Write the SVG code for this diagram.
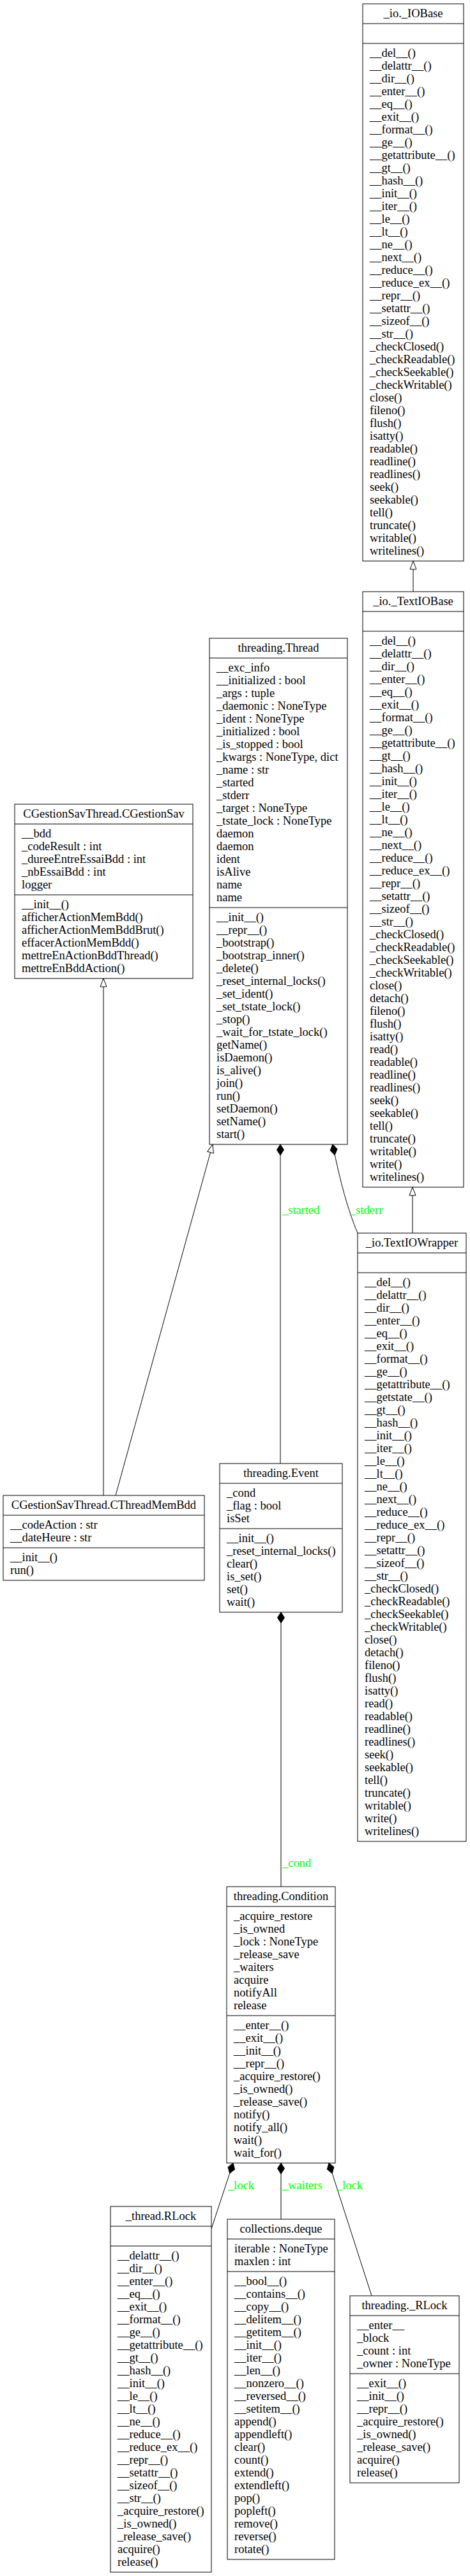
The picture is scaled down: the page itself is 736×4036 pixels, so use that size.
<svg xmlns="http://www.w3.org/2000/svg" width="736" height="4036" viewBox="0 0 736 4036">
<style>
.box{fill:#fff;stroke:#000;stroke-width:1}
.sep{stroke:#000;stroke-width:1}
text{font-family:"Liberation Serif","Times New Roman",serif;font-size:18.5px;fill:#000}
.h{text-anchor:middle}
.lbl{fill:#00ff00}
.edge{fill:none;stroke:#000;stroke-width:1}
.inh{marker-end:url(#tri)}
.comp{marker-start:url(#dia)}
</style>
<defs>
<marker id="tri" markerUnits="userSpaceOnUse" markerWidth="15" markerHeight="12" refX="13" refY="5.5" orient="auto" overflow="visible">
<path d="M0,0.5 L13,5.5 L0,10.5 Z" fill="#fff" stroke="#000" stroke-width="1"/>
</marker>
<marker id="dia" markerUnits="userSpaceOnUse" markerWidth="18" markerHeight="12" refX="0" refY="5.5" orient="auto" overflow="visible">
<path d="M0,5.5 L8.5,0 L17,5.5 L8.5,11 Z" fill="#000" stroke="#000" stroke-width="1"/>
</marker>
</defs>
<rect x="0" y="0" width="736" height="4036" fill="#fff"/>

<g id="connectors">
<path class="edge inh" d="M647,927 L647,879"/>
<path class="edge inh" d="M646,1932 L646,1860"/>
<path class="edge inh" d="M162,2343 L162,1533"/>
<path class="edge inh" d="M181,2343 L333,1793"/>
<path class="edge comp" d="M439,1793 L439,2293"/>
<path class="edge comp" d="M521,1793 Q538,1880 560,1932"/>
<path class="edge comp" d="M440,2526 L440,2956"/>
<path class="edge comp" d="M365,3389 L331,3492"/>
<path class="edge comp" d="M440,3389 L440,3477"/>
<path class="edge comp" d="M515,3389 L582,3597"/>
<text class="lbl" x="442" y="1902">_started</text>
<text class="lbl" x="548" y="1902">_stderr</text>
<text class="lbl" x="442" y="2925">_cond</text>
<text class="lbl" x="357" y="3430">_lock</text>
<text class="lbl" x="442" y="3430">_waiters</text>
<text class="lbl" x="527" y="3430">_lock</text>
</g>

<g id="io_IOBase">
<rect class="box" x="568" y="6" width="158" height="873"/>
<line class="sep" x1="568" y1="37" x2="726" y2="37"/>
<line class="sep" x1="568" y1="68" x2="726" y2="68"/>
<text class="h" x="647" y="27">_io._IOBase</text>
<text>
<tspan x="579" y="89">__del__()</tspan>
<tspan x="579" y="109">__delattr__()</tspan>
<tspan x="579" y="129">__dir__()</tspan>
<tspan x="579" y="149">__enter__()</tspan>
<tspan x="579" y="169">__eq__()</tspan>
<tspan x="579" y="189">__exit__()</tspan>
<tspan x="579" y="209">__format__()</tspan>
<tspan x="579" y="229">__ge__()</tspan>
<tspan x="579" y="249">__getattribute__()</tspan>
<tspan x="579" y="269">__gt__()</tspan>
<tspan x="579" y="289">__hash__()</tspan>
<tspan x="579" y="309">__init__()</tspan>
<tspan x="579" y="329">__iter__()</tspan>
<tspan x="579" y="349">__le__()</tspan>
<tspan x="579" y="369">__lt__()</tspan>
<tspan x="579" y="389">__ne__()</tspan>
<tspan x="579" y="409">__next__()</tspan>
<tspan x="579" y="429">__reduce__()</tspan>
<tspan x="579" y="449">__reduce_ex__()</tspan>
<tspan x="579" y="469">__repr__()</tspan>
<tspan x="579" y="489">__setattr__()</tspan>
<tspan x="579" y="509">__sizeof__()</tspan>
<tspan x="579" y="529">__str__()</tspan>
<tspan x="579" y="549">_checkClosed()</tspan>
<tspan x="579" y="569">_checkReadable()</tspan>
<tspan x="579" y="589">_checkSeekable()</tspan>
<tspan x="579" y="609">_checkWritable()</tspan>
<tspan x="579" y="629">close()</tspan>
<tspan x="579" y="649">fileno()</tspan>
<tspan x="579" y="669">flush()</tspan>
<tspan x="579" y="689">isatty()</tspan>
<tspan x="579" y="709">readable()</tspan>
<tspan x="579" y="729">readline()</tspan>
<tspan x="579" y="749">readlines()</tspan>
<tspan x="579" y="769">seek()</tspan>
<tspan x="579" y="789">seekable()</tspan>
<tspan x="579" y="809">tell()</tspan>
<tspan x="579" y="829">truncate()</tspan>
<tspan x="579" y="849">writable()</tspan>
<tspan x="579" y="869">writelines()</tspan>
</text>
</g>

<g id="io_TextIOBase">
<rect class="box" x="568" y="927" width="158" height="933"/>
<line class="sep" x1="568" y1="958" x2="726" y2="958"/>
<line class="sep" x1="568" y1="989" x2="726" y2="989"/>
<text class="h" x="647" y="948">_io._TextIOBase</text>
<text>
<tspan x="579" y="1010">__del__()</tspan>
<tspan x="579" y="1030">__delattr__()</tspan>
<tspan x="579" y="1050">__dir__()</tspan>
<tspan x="579" y="1070">__enter__()</tspan>
<tspan x="579" y="1090">__eq__()</tspan>
<tspan x="579" y="1110">__exit__()</tspan>
<tspan x="579" y="1130">__format__()</tspan>
<tspan x="579" y="1150">__ge__()</tspan>
<tspan x="579" y="1170">__getattribute__()</tspan>
<tspan x="579" y="1190">__gt__()</tspan>
<tspan x="579" y="1210">__hash__()</tspan>
<tspan x="579" y="1230">__init__()</tspan>
<tspan x="579" y="1250">__iter__()</tspan>
<tspan x="579" y="1270">__le__()</tspan>
<tspan x="579" y="1290">__lt__()</tspan>
<tspan x="579" y="1310">__ne__()</tspan>
<tspan x="579" y="1330">__next__()</tspan>
<tspan x="579" y="1350">__reduce__()</tspan>
<tspan x="579" y="1370">__reduce_ex__()</tspan>
<tspan x="579" y="1390">__repr__()</tspan>
<tspan x="579" y="1410">__setattr__()</tspan>
<tspan x="579" y="1430">__sizeof__()</tspan>
<tspan x="579" y="1450">__str__()</tspan>
<tspan x="579" y="1470">_checkClosed()</tspan>
<tspan x="579" y="1490">_checkReadable()</tspan>
<tspan x="579" y="1510">_checkSeekable()</tspan>
<tspan x="579" y="1530">_checkWritable()</tspan>
<tspan x="579" y="1550">close()</tspan>
<tspan x="579" y="1570">detach()</tspan>
<tspan x="579" y="1590">fileno()</tspan>
<tspan x="579" y="1610">flush()</tspan>
<tspan x="579" y="1630">isatty()</tspan>
<tspan x="579" y="1650">read()</tspan>
<tspan x="579" y="1670">readable()</tspan>
<tspan x="579" y="1690">readline()</tspan>
<tspan x="579" y="1710">readlines()</tspan>
<tspan x="579" y="1730">seek()</tspan>
<tspan x="579" y="1750">seekable()</tspan>
<tspan x="579" y="1770">tell()</tspan>
<tspan x="579" y="1790">truncate()</tspan>
<tspan x="579" y="1810">writable()</tspan>
<tspan x="579" y="1830">write()</tspan>
<tspan x="579" y="1850">writelines()</tspan>
</text>
</g>

<g id="io_TextIOWrapper">
<rect class="box" x="560" y="1932" width="170" height="953"/>
<line class="sep" x1="560" y1="1963" x2="730" y2="1963"/>
<line class="sep" x1="560" y1="1994" x2="730" y2="1994"/>
<text class="h" x="645" y="1953">_io.TextIOWrapper</text>
<text>
<tspan x="571" y="2015">__del__()</tspan>
<tspan x="571" y="2035">__delattr__()</tspan>
<tspan x="571" y="2055">__dir__()</tspan>
<tspan x="571" y="2075">__enter__()</tspan>
<tspan x="571" y="2095">__eq__()</tspan>
<tspan x="571" y="2115">__exit__()</tspan>
<tspan x="571" y="2135">__format__()</tspan>
<tspan x="571" y="2155">__ge__()</tspan>
<tspan x="571" y="2175">__getattribute__()</tspan>
<tspan x="571" y="2195">__getstate__()</tspan>
<tspan x="571" y="2215">__gt__()</tspan>
<tspan x="571" y="2235">__hash__()</tspan>
<tspan x="571" y="2255">__init__()</tspan>
<tspan x="571" y="2275">__iter__()</tspan>
<tspan x="571" y="2295">__le__()</tspan>
<tspan x="571" y="2315">__lt__()</tspan>
<tspan x="571" y="2335">__ne__()</tspan>
<tspan x="571" y="2355">__next__()</tspan>
<tspan x="571" y="2375">__reduce__()</tspan>
<tspan x="571" y="2395">__reduce_ex__()</tspan>
<tspan x="571" y="2415">__repr__()</tspan>
<tspan x="571" y="2435">__setattr__()</tspan>
<tspan x="571" y="2455">__sizeof__()</tspan>
<tspan x="571" y="2475">__str__()</tspan>
<tspan x="571" y="2495">_checkClosed()</tspan>
<tspan x="571" y="2515">_checkReadable()</tspan>
<tspan x="571" y="2535">_checkSeekable()</tspan>
<tspan x="571" y="2555">_checkWritable()</tspan>
<tspan x="571" y="2575">close()</tspan>
<tspan x="571" y="2595">detach()</tspan>
<tspan x="571" y="2615">fileno()</tspan>
<tspan x="571" y="2635">flush()</tspan>
<tspan x="571" y="2655">isatty()</tspan>
<tspan x="571" y="2675">read()</tspan>
<tspan x="571" y="2695">readable()</tspan>
<tspan x="571" y="2715">readline()</tspan>
<tspan x="571" y="2735">readlines()</tspan>
<tspan x="571" y="2755">seek()</tspan>
<tspan x="571" y="2775">seekable()</tspan>
<tspan x="571" y="2795">tell()</tspan>
<tspan x="571" y="2815">truncate()</tspan>
<tspan x="571" y="2835">writable()</tspan>
<tspan x="571" y="2855">write()</tspan>
<tspan x="571" y="2875">writelines()</tspan>
</text>
</g>

<g id="threading_Thread">
<rect class="box" x="328" y="1000" width="216" height="793"/>
<line class="sep" x1="328" y1="1031" x2="544" y2="1031"/>
<line class="sep" x1="328" y1="1422" x2="544" y2="1422"/>
<text class="h" x="436" y="1021">threading.Thread</text>
<text>
<tspan x="339" y="1052">__exc_info</tspan>
<tspan x="339" y="1072">__initialized : bool</tspan>
<tspan x="339" y="1092">_args : tuple</tspan>
<tspan x="339" y="1112">_daemonic : NoneType</tspan>
<tspan x="339" y="1132">_ident : NoneType</tspan>
<tspan x="339" y="1152">_initialized : bool</tspan>
<tspan x="339" y="1172">_is_stopped : bool</tspan>
<tspan x="339" y="1192">_kwargs : NoneType, dict</tspan>
<tspan x="339" y="1212">_name : str</tspan>
<tspan x="339" y="1232">_started</tspan>
<tspan x="339" y="1252">_stderr</tspan>
<tspan x="339" y="1272">_target : NoneType</tspan>
<tspan x="339" y="1292">_tstate_lock : NoneType</tspan>
<tspan x="339" y="1312">daemon</tspan>
<tspan x="339" y="1332">daemon</tspan>
<tspan x="339" y="1352">ident</tspan>
<tspan x="339" y="1372">isAlive</tspan>
<tspan x="339" y="1392">name</tspan>
<tspan x="339" y="1412">name</tspan>
</text>
<text>
<tspan x="339" y="1443">__init__()</tspan>
<tspan x="339" y="1463">__repr__()</tspan>
<tspan x="339" y="1483">_bootstrap()</tspan>
<tspan x="339" y="1503">_bootstrap_inner()</tspan>
<tspan x="339" y="1523">_delete()</tspan>
<tspan x="339" y="1543">_reset_internal_locks()</tspan>
<tspan x="339" y="1563">_set_ident()</tspan>
<tspan x="339" y="1583">_set_tstate_lock()</tspan>
<tspan x="339" y="1603">_stop()</tspan>
<tspan x="339" y="1623">_wait_for_tstate_lock()</tspan>
<tspan x="339" y="1643">getName()</tspan>
<tspan x="339" y="1663">isDaemon()</tspan>
<tspan x="339" y="1683">is_alive()</tspan>
<tspan x="339" y="1703">join()</tspan>
<tspan x="339" y="1723">run()</tspan>
<tspan x="339" y="1743">setDaemon()</tspan>
<tspan x="339" y="1763">setName()</tspan>
<tspan x="339" y="1783">start()</tspan>
</text>
</g>

<g id="CGestionSav">
<rect class="box" x="23" y="1260" width="279" height="273"/>
<line class="sep" x1="23" y1="1291" x2="302" y2="1291"/>
<line class="sep" x1="23" y1="1402" x2="302" y2="1402"/>
<text class="h" x="162.5" y="1281">CGestionSavThread.CGestionSav</text>
<text>
<tspan x="34" y="1312">__bdd</tspan>
<tspan x="34" y="1332">_codeResult : int</tspan>
<tspan x="34" y="1352">_dureeEntreEssaiBdd : int</tspan>
<tspan x="34" y="1372">_nbEssaiBdd : int</tspan>
<tspan x="34" y="1392">logger</tspan>
</text>
<text>
<tspan x="34" y="1423">__init__()</tspan>
<tspan x="34" y="1443">afficherActionMemBdd()</tspan>
<tspan x="34" y="1463">afficherActionMemBddBrut()</tspan>
<tspan x="34" y="1483">effacerActionMemBdd()</tspan>
<tspan x="34" y="1503">mettreEnActionBddThread()</tspan>
<tspan x="34" y="1523">mettreEnBddAction()</tspan>
</text>
</g>

<g id="CThreadMemBdd">
<rect class="box" x="5" y="2343" width="315" height="133"/>
<line class="sep" x1="5" y1="2374" x2="320" y2="2374"/>
<line class="sep" x1="5" y1="2425" x2="320" y2="2425"/>
<text class="h" x="162.5" y="2364">CGestionSavThread.CThreadMemBdd</text>
<text>
<tspan x="16" y="2395">__codeAction : str</tspan>
<tspan x="16" y="2415">__dateHeure : str</tspan>
<tspan x="16" y="2446">__init__()</tspan>
<tspan x="16" y="2466">run()</tspan>
</text>
</g>

<g id="threading_Event">
<rect class="box" x="344" y="2293" width="192" height="233"/>
<line class="sep" x1="344" y1="2324" x2="536" y2="2324"/>
<line class="sep" x1="344" y1="2395" x2="536" y2="2395"/>
<text class="h" x="440" y="2314">threading.Event</text>
<text>
<tspan x="355" y="2345">_cond</tspan>
<tspan x="355" y="2365">_flag : bool</tspan>
<tspan x="355" y="2385">isSet</tspan>
<tspan x="355" y="2416">__init__()</tspan>
<tspan x="355" y="2436">_reset_internal_locks()</tspan>
<tspan x="355" y="2456">clear()</tspan>
<tspan x="355" y="2476">is_set()</tspan>
<tspan x="355" y="2496">set()</tspan>
<tspan x="355" y="2516">wait()</tspan>
</text>
</g>

<g id="threading_Condition">
<rect class="box" x="355" y="2956" width="170" height="433"/>
<line class="sep" x1="355" y1="2987" x2="525" y2="2987"/>
<line class="sep" x1="355" y1="3158" x2="525" y2="3158"/>
<text class="h" x="440" y="2977">threading.Condition</text>
<text>
<tspan x="366" y="3008">_acquire_restore</tspan>
<tspan x="366" y="3028">_is_owned</tspan>
<tspan x="366" y="3048">_lock : NoneType</tspan>
<tspan x="366" y="3068">_release_save</tspan>
<tspan x="366" y="3088">_waiters</tspan>
<tspan x="366" y="3108">acquire</tspan>
<tspan x="366" y="3128">notifyAll</tspan>
<tspan x="366" y="3148">release</tspan>
<tspan x="366" y="3179">__enter__()</tspan>
<tspan x="366" y="3199">__exit__()</tspan>
<tspan x="366" y="3219">__init__()</tspan>
<tspan x="366" y="3239">__repr__()</tspan>
<tspan x="366" y="3259">_acquire_restore()</tspan>
<tspan x="366" y="3279">_is_owned()</tspan>
<tspan x="366" y="3299">_release_save()</tspan>
<tspan x="366" y="3319">notify()</tspan>
<tspan x="366" y="3339">notify_all()</tspan>
<tspan x="366" y="3359">wait()</tspan>
<tspan x="366" y="3379">wait_for()</tspan>
</text>
</g>

<g id="thread_RLock">
<rect class="box" x="173" y="3457" width="158" height="573"/>
<line class="sep" x1="173" y1="3488" x2="331" y2="3488"/>
<line class="sep" x1="173" y1="3519" x2="331" y2="3519"/>
<text class="h" x="252" y="3478">_thread.RLock</text>
<text>
<tspan x="184" y="3540">__delattr__()</tspan>
<tspan x="184" y="3560">__dir__()</tspan>
<tspan x="184" y="3580">__enter__()</tspan>
<tspan x="184" y="3600">__eq__()</tspan>
<tspan x="184" y="3620">__exit__()</tspan>
<tspan x="184" y="3640">__format__()</tspan>
<tspan x="184" y="3660">__ge__()</tspan>
<tspan x="184" y="3680">__getattribute__()</tspan>
<tspan x="184" y="3700">__gt__()</tspan>
<tspan x="184" y="3720">__hash__()</tspan>
<tspan x="184" y="3740">__init__()</tspan>
<tspan x="184" y="3760">__le__()</tspan>
<tspan x="184" y="3780">__lt__()</tspan>
<tspan x="184" y="3800">__ne__()</tspan>
<tspan x="184" y="3820">__reduce__()</tspan>
<tspan x="184" y="3840">__reduce_ex__()</tspan>
<tspan x="184" y="3860">__repr__()</tspan>
<tspan x="184" y="3880">__setattr__()</tspan>
<tspan x="184" y="3900">__sizeof__()</tspan>
<tspan x="184" y="3920">__str__()</tspan>
<tspan x="184" y="3940">_acquire_restore()</tspan>
<tspan x="184" y="3960">_is_owned()</tspan>
<tspan x="184" y="3980">_release_save()</tspan>
<tspan x="184" y="4000">acquire()</tspan>
<tspan x="184" y="4020">release()</tspan>
</text>
</g>

<g id="collections_deque">
<rect class="box" x="356" y="3477" width="168" height="533"/>
<line class="sep" x1="356" y1="3508" x2="524" y2="3508"/>
<line class="sep" x1="356" y1="3559" x2="524" y2="3559"/>
<text class="h" x="440" y="3498">collections.deque</text>
<text>
<tspan x="367" y="3529">iterable : NoneType</tspan>
<tspan x="367" y="3549">maxlen : int</tspan>
<tspan x="367" y="3580">__bool__()</tspan>
<tspan x="367" y="3600">__contains__()</tspan>
<tspan x="367" y="3620">__copy__()</tspan>
<tspan x="367" y="3640">__delitem__()</tspan>
<tspan x="367" y="3660">__getitem__()</tspan>
<tspan x="367" y="3680">__init__()</tspan>
<tspan x="367" y="3700">__iter__()</tspan>
<tspan x="367" y="3720">__len__()</tspan>
<tspan x="367" y="3740">__nonzero__()</tspan>
<tspan x="367" y="3760">__reversed__()</tspan>
<tspan x="367" y="3780">__setitem__()</tspan>
<tspan x="367" y="3800">append()</tspan>
<tspan x="367" y="3820">appendleft()</tspan>
<tspan x="367" y="3840">clear()</tspan>
<tspan x="367" y="3860">count()</tspan>
<tspan x="367" y="3880">extend()</tspan>
<tspan x="367" y="3900">extendleft()</tspan>
<tspan x="367" y="3920">pop()</tspan>
<tspan x="367" y="3940">popleft()</tspan>
<tspan x="367" y="3960">remove()</tspan>
<tspan x="367" y="3980">reverse()</tspan>
<tspan x="367" y="4000">rotate()</tspan>
</text>
</g>

<g id="threading_RLock">
<rect class="box" x="548" y="3597" width="171" height="293"/>
<line class="sep" x1="548" y1="3628" x2="719" y2="3628"/>
<line class="sep" x1="548" y1="3719" x2="719" y2="3719"/>
<text class="h" x="633.5" y="3618">threading._RLock</text>
<text>
<tspan x="559" y="3649">__enter__</tspan>
<tspan x="559" y="3669">_block</tspan>
<tspan x="559" y="3689">_count : int</tspan>
<tspan x="559" y="3709">_owner : NoneType</tspan>
<tspan x="559" y="3740">__exit__()</tspan>
<tspan x="559" y="3760">__init__()</tspan>
<tspan x="559" y="3780">__repr__()</tspan>
<tspan x="559" y="3800">_acquire_restore()</tspan>
<tspan x="559" y="3820">_is_owned()</tspan>
<tspan x="559" y="3840">_release_save()</tspan>
<tspan x="559" y="3860">acquire()</tspan>
<tspan x="559" y="3880">release()</tspan>
</text>
</g>
</svg>
